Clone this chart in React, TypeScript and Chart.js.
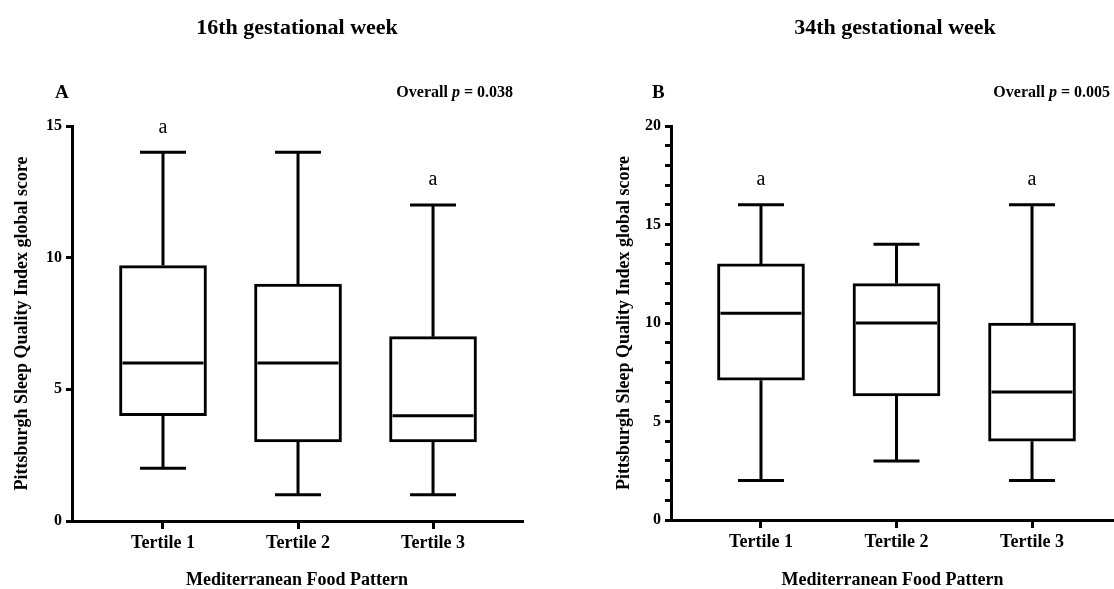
import React, { useEffect, useRef } from 'react';
import { Chart, registerables } from 'chart.js';

Chart.register(...registerables);

// ---------- data ----------
const categories = ['Tertile 1', 'Tertile 2', 'Tertile 3'];
const positions = [1, 2, 3];

// Panel A: 16th gestational week
const minA = [2, 1, 1];
const q1A = [4, 3, 3];
const medianA = [6, 6, 4];
const q3A = [9.7, 9, 7];
const maxA = [14, 14, 12];
const sigA = ['a', '', 'a'];
const yTicksA = [0, 5, 10, 15];
const yLabelsA = [0, 5, 10, 15];

// Panel B: 34th gestational week
const minB = [2, 3, 2];
const q1B = [7.1, 6.3, 4];
const medianB = [10.5, 10, 6.5];
const q3B = [13, 12, 10];
const maxB = [16, 14, 16];
const sigB = ['a', '', 'a'];
const yTicksB = [0, 1, 2, 3, 4, 5, 6, 7, 8, 9, 10, 11, 12, 13, 14, 15, 16, 17, 18, 19, 20];
const yLabelsB = [0, 5, 10, 15, 20];

const FONT = '"Liberation Serif", "Times New Roman", serif';

type PanelData = {
  min: number[]; q1: number[]; median: number[]; q3: number[]; max: number[];
  sig: string[]; yTicks: number[]; yLabels: number[]; yMax: number;
  title: string; letter: string; pValue: string;
};

type PanelLayout = {
  padLeft: number; padRight: number; top: number; yWidth: number; xHeight: number;
  xMin: number; xMax: number; yTitlePad: number;
  titleX: number; letterX: number; pRight: number;
};

const panelA: PanelData = {
  min: minA, q1: q1A, median: medianA, q3: q3A, max: maxA, sig: sigA,
  yTicks: yTicksA, yLabels: yLabelsA, yMax: 15,
  title: '16th gestational week', letter: 'A', pValue: '0.038',
};
const panelB: PanelData = {
  min: minB, q1: q1B, median: medianB, q3: q3B, max: maxB, sig: sigB,
  yTicks: yTicksB, yLabels: yLabelsB, yMax: 20,
  title: '34th gestational week', letter: 'B', pValue: '0.005',
};

const layoutA: PanelLayout = {
  padLeft: 0, padRight: 35, top: 126, yWidth: 72, xHeight: 68,
  xMin: 0.326, xMax: 3.659, yTitlePad: 13,
  titleX: 297, letterX: 55, pRight: 513,
};
const layoutB: PanelLayout = {
  padLeft: 42, padRight: 0, top: 126, yWidth: 72, xHeight: 69,
  xMin: 0.336, xMax: 3.605, yTitlePad: 16,
  titleX: 338, letterX: 95, pRight: 553,
};

const BOX_W = 87;
const CAP_W = 46;
const LW = 3;

function makeDecor(d: PanelData, L: PanelLayout) {
  return {
    id: 'decor' + d.letter,
    afterDatasetsDraw(chart: any) {
      const ctx = chart.ctx as CanvasRenderingContext2D;
      const xs = chart.scales.x;
      const ys = chart.scales.y;
      ctx.save();
      ctx.strokeStyle = '#000';
      ctx.lineWidth = LW;
      ctx.lineCap = 'butt';
      positions.forEach((p, i) => {
        const x = xs.getPixelForValue(p);
        const yMin = ys.getPixelForValue(d.min[i]);
        const yQ1 = ys.getPixelForValue(d.q1[i]);
        const yMed = ys.getPixelForValue(d.median[i]);
        const yQ3 = ys.getPixelForValue(d.q3[i]);
        const yMax = ys.getPixelForValue(d.max[i]);
        ctx.beginPath();
        ctx.moveTo(x, yQ3); ctx.lineTo(x, yMax);
        ctx.moveTo(x, yQ1); ctx.lineTo(x, yMin);
        ctx.moveTo(x - CAP_W / 2, yMax); ctx.lineTo(x + CAP_W / 2, yMax);
        ctx.moveTo(x - CAP_W / 2, yMin); ctx.lineTo(x + CAP_W / 2, yMin);
        ctx.moveTo(x - BOX_W / 2 + LW, yMed); ctx.lineTo(x + BOX_W / 2 - LW, yMed);
        ctx.stroke();
        if (d.sig[i]) {
          ctx.fillStyle = '#000';
          ctx.font = `normal 20px ${FONT}`;
          ctx.textAlign = 'center';
          ctx.textBaseline = 'middle';
          ctx.fillText(d.sig[i], x, yMax - 25);
        }
      });
      ctx.restore();
    },
    afterDraw(chart: any) {
      const ctx = chart.ctx as CanvasRenderingContext2D;
      ctx.save();
      ctx.fillStyle = '#000';
      ctx.textBaseline = 'middle';
      ctx.font = `bold 22px ${FONT}`;
      ctx.textAlign = 'center';
      ctx.fillText(d.title, L.titleX, 28);
      ctx.font = `bold 19px ${FONT}`;
      ctx.textAlign = 'left';
      ctx.fillText(d.letter, L.letterX, 93);
      const fBold = `bold 16px ${FONT}`;
      const fItal = `italic bold 16px ${FONT}`;
      const t1 = 'Overall ';
      const t2 = 'p';
      const t3 = ' = ' + d.pValue;
      ctx.font = fBold; const w1 = ctx.measureText(t1).width; const w3 = ctx.measureText(t3).width;
      ctx.font = fItal; const w2 = ctx.measureText(t2).width;
      let x = L.pRight - (w1 + w2 + w3);
      ctx.font = fBold; ctx.fillText(t1, x, 93); x += w1;
      ctx.font = fItal; ctx.fillText(t2, x, 93); x += w2;
      ctx.font = fBold; ctx.fillText(t3, x, 93);
      ctx.restore();
    },
  };
}

function Panel({ d, L, left }: { d: PanelData; L: PanelLayout; left: number }) {
  const ref = useRef<HTMLCanvasElement | null>(null);
  useEffect(() => {
    if (!ref.current) return;
    const chart = new Chart(ref.current, {
      type: 'bar',
      data: {
        datasets: [
          {
            data: positions.map((p, i) => ({ x: p, y: [d.q1[i], d.q3[i]] })) as any,
            backgroundColor: '#ffffff',
            borderColor: '#000000',
            borderWidth: LW,
            borderSkipped: false,
            barThickness: BOX_W,
          } as any,
        ],
      },
      options: {
        animation: false,
        responsive: false,
        events: [],
        layout: { padding: { left: L.padLeft, right: L.padRight, top: L.top, bottom: 0 } },
        plugins: {
          legend: { display: false },
          tooltip: { enabled: false },
          title: { display: false },
        },
        scales: {
          x: {
            type: 'linear',
            min: L.xMin,
            max: L.xMax,
            offset: false,
            afterBuildTicks: (s: any) => {
              s.ticks = positions.map((v) => ({ value: v }));
            },
            afterFit: (s: any) => {
              s.height = L.xHeight;
            },
            ticks: {
              autoSkip: false,
              maxRotation: 0,
              padding: 4,
              color: '#000',
              font: { family: FONT, size: 18, weight: 'bold' },
              callback: (v: any) => {
                const idx = positions.indexOf(Number(v));
                return idx >= 0 ? categories[idx] : '';
              },
            },
            grid: {
              drawOnChartArea: false,
              drawTicks: true,
              tickLength: 8,
              lineWidth: LW,
              color: '#000',
              offset: false,
            },
            border: { display: true, width: LW, color: '#000' },
            title: {
              display: true,
              text: 'Mediterranean Food Pattern',
              color: '#000',
              font: { family: FONT, size: 18, weight: 'bold', lineHeight: 1 },
              padding: 0,
            },
          } as any,
          y: {
            type: 'linear',
            min: 0,
            max: d.yMax,
            afterBuildTicks: (s: any) => {
              s.ticks = d.yTicks.map((v) => ({ value: v }));
            },
            afterFit: (s: any) => {
              s.width = L.yWidth;
            },
            ticks: {
              autoSkip: false,
              padding: 4,
              color: '#000',
              font: { family: FONT, size: 16, weight: 'bold' },
              callback: (v: any) => (d.yLabels.includes(Number(v)) ? String(v) : ''),
            },
            grid: {
              drawOnChartArea: false,
              drawTicks: true,
              tickLength: 6,
              lineWidth: LW,
              color: '#000',
            },
            border: { display: true, width: LW, color: '#000' },
            title: {
              display: true,
              text: 'Pittsburgh Sleep Quality Index global score',
              color: '#000',
              font: { family: FONT, size: 18, weight: 'bold', lineHeight: 1 },
              padding: { top: L.yTitlePad, bottom: 0 },
            },
          } as any,
        },
      },
      plugins: [makeDecor(d, L)],
    });
    return () => chart.destroy();
  }, []);
  return (
    <canvas
      ref={ref}
      width={557}
      height={589}
      style={{ position: 'absolute', left, top: 0, width: 557, height: 589, display: 'block' }}
    />
  );
}

export default function App() {
  return (
    <div
      style={{
        position: 'fixed',
        left: 0,
        top: 0,
        width: 1114,
        height: 589,
        background: '#ffffff',
        overflow: 'hidden',
      }}
    >
      <Panel d={panelA} L={layoutA} left={0} />
      <Panel d={panelB} L={layoutB} left={557} />
    </div>
  );
}
